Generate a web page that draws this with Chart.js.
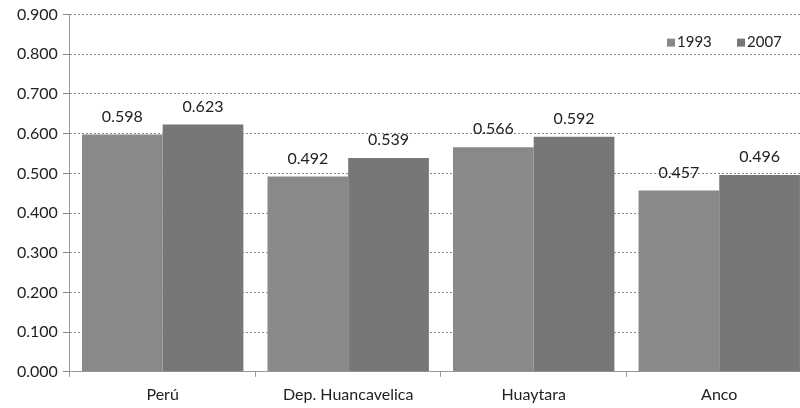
<!DOCTYPE html>
<html>
<head>
<meta charset="utf-8">
<script src="https://cdn.jsdelivr.net/npm/chart.js@4.4.1/dist/chart.umd.min.js"></script>
<style>
  html, body { margin: 0; padding: 0; background: #fff; overflow: hidden; }
  #wrap { width: 800px; height: 408px; overflow: hidden; position: relative; }
  #box { width: 812px; height: 412px; position: absolute; left: 0; top: 0; }
</style>
</head>
<body>
<div id="wrap"><div id="box"><canvas id="c"></canvas></div></div>
<script>
const categories = ["Perú", "Dep. Huancavelica", "Huaytara", "Anco"];
const seriesNames = ["1993", "2007"];
const values1993 = [0.598, 0.492, 0.566, 0.457];
const values2007 = [0.623, 0.539, 0.592, 0.496];
const yTicks = [0, 0.1, 0.2, 0.3, 0.4, 0.5, 0.6, 0.7, 0.8, 0.9];

const FONT = "Lato, 'Open Sans', sans-serif";
const colors = ["#898989", "#777777"];

const valueLabels = {
  id: "valueLabels",
  afterDatasetsDraw(chart) {
    const ctx = chart.ctx;
    ctx.save();
    ctx.font = "16px " + FONT;
    ctx.fillStyle = "#222";
    ctx.textAlign = "center";
    ctx.textBaseline = "middle";
    chart.data.datasets.forEach((ds, i) => {
      chart.getDatasetMeta(i).data.forEach((bar, j) => {
        ctx.fillText(ds.data[j].toFixed(3), bar.x, bar.y - 18);
      });
    });
    ctx.restore();
  }
};

const innerLegend = {
  id: "innerLegend",
  afterDraw(chart) {
    const ctx = chart.ctx;
    const area = chart.chartArea;
    const y = area.top + 28;
    const xs = [667, 737];
    ctx.save();
    ctx.font = "15px " + FONT;
    ctx.textBaseline = "middle";
    ctx.textAlign = "left";
    chart.data.datasets.forEach((ds, i) => {
      ctx.fillStyle = ds.backgroundColor;
      ctx.fillRect(xs[i], y - 4, 8, 8);
      ctx.fillStyle = "#222";
      ctx.fillText(ds.label, xs[i] + 10, y);
    });
    ctx.restore();
  }
};

new Chart(document.getElementById("c"), {
  type: "bar",
  data: {
    labels: categories,
    datasets: [
      { label: seriesNames[0], data: values1993, backgroundColor: colors[0] },
      { label: seriesNames[1], data: values2007, backgroundColor: colors[1] }
    ]
  },
  options: {
    responsive: true,
    maintainAspectRatio: false,
    animation: false,
    layout: { padding: { top: 11, right: 0, left: 12, bottom: 0 } },
    plugins: {
      legend: { display: false },
      tooltip: { enabled: false }
    },
    datasets: { bar: { categoryPercentage: 0.87, barPercentage: 1.0 } },
    scales: {
      x: {
        grid: { display: true, drawOnChartArea: false, offset: true, tickLength: 5, color: "#999" },
        border: { display: true, color: "#999", dash: [2, 2] },
        ticks: { color: "#222", font: { family: FONT, size: 16 }, padding: 8 }
      },
      y: {
        min: 0, max: 0.9,
        afterBuildTicks(axis) { axis.ticks = yTicks.map(v => ({ value: v })); },
        grid: { color: "#8a8a8a", tickLength: 7, lineWidth: 1 },
        border: { display: true, color: "#999", dash: [2, 2] },
        ticks: {
          color: "#222",
          font: { family: FONT, size: 16 },
          padding: 5,
          callback: v => Number(v).toFixed(3)
        }
      }
    }
  },
  plugins: [valueLabels, innerLegend]
});
</script>
</body>
</html>
